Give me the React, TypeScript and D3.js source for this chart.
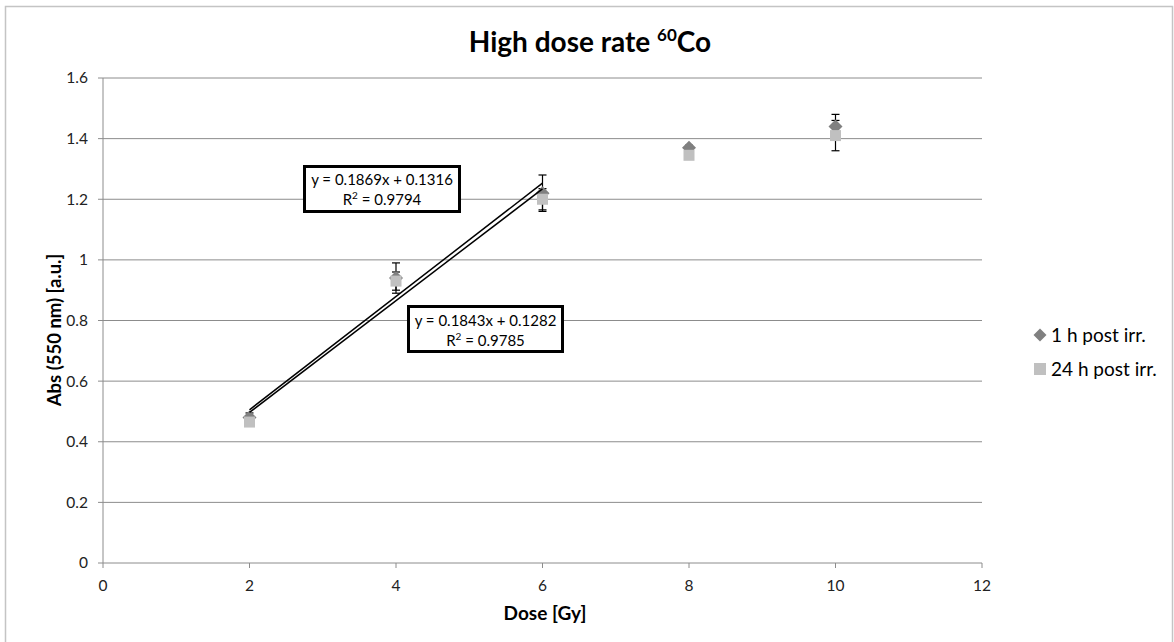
import React from "react";
import * as d3 from "d3";

const doses = [2, 4, 6, 8, 10];
const oneHour = [0.48, 0.94, 1.22, 1.37, 1.44];
const oneHourErr = [0.015, 0.05, 0.06, 0.008, 0.04];
const twentyFourHour = [0.465, 0.93, 1.2, 1.345, 1.41];
const twentyFourHourErr = [0.01, 0.03, 0.035, 0.008, 0.05];
const xTicks = [0, 2, 4, 6, 8, 10, 12];
const yTicks = [0, 0.2, 0.4, 0.6, 0.8, 1, 1.2, 1.4, 1.6];
const fit1h = { slope: 0.1869, intercept: 0.1316, r2: "0.9794", x0: 2, x1: 6 };
const fit24h = { slope: 0.1843, intercept: 0.1282, r2: "0.9785", x0: 2, x1: 6 };
const seriesNames = ["1 h post irr.", "24 h post irr."];

const W = 1174;
const H = 642;
const FONT = "Lato, 'Open Sans', sans-serif";

export default function App() {
  const x = d3.scaleLinear().domain([0, 12]).range([103, 982]);
  const y = d3.scaleLinear().domain([0, 1.6]).range([563, 78]);
  const gridColor = "#8c8c8c";
  const c1 = "#808080";
  const c2 = "#c0c0c0";

  const diamondPath = (r: number) => `M0,${-r}L${r},0L0,${r}L${-r},0Z`;
  const line = d3.line<[number, number]>().x((d) => x(d[0])).y((d) => y(d[1]));

  const fitLine = (f: typeof fit1h) =>
    line([
      [f.x0, f.slope * f.x0 + f.intercept],
      [f.x1, f.slope * f.x1 + f.intercept],
    ]) || "";

  const errBar = (xv: number, yv: number, e: number, key: string) => {
    const px = x(xv);
    return (
      <g key={key} stroke="#000" strokeWidth={1.2}>
        <line x1={px} x2={px} y1={y(yv - e)} y2={y(yv + e)} />
        <line x1={px - 4} x2={px + 4} y1={y(yv - e)} y2={y(yv - e)} />
        <line x1={px - 4} x2={px + 4} y1={y(yv + e)} y2={y(yv + e)} />
      </g>
    );
  };

  return (
    <svg
      width={W}
      height={H}
      style={{ position: "absolute", left: 0, top: 0, background: "#fff" }}
      fontFamily={FONT}
    >
      <rect x={5.5} y={6.5} width={1167} height={650} fill="#fff" stroke="#c4c4c4" strokeWidth={1.5} />

      {/* Title */}
      <text x={590} y={52} textAnchor="middle" fontSize={28} fontWeight="bold" fill="#000">
        High dose rate <tspan fontSize={17} dy={-11}>60</tspan>
        <tspan dy={11}>Co</tspan>
      </text>

      {/* gridlines */}
      {yTicks.map((t) => (
        <line key={"g" + t} x1={x(0)} x2={x(12)} y1={y(t)} y2={y(t)} stroke={gridColor} strokeWidth={1} />
      ))}
      {/* y axis */}
      <line x1={x(0)} x2={x(0)} y1={y(0)} y2={y(1.6)} stroke={gridColor} strokeWidth={1} />
      {yTicks.map((t) => (
        <g key={"yt" + t}>
          <line x1={x(0) - 5} x2={x(0)} y1={y(t)} y2={y(t)} stroke={gridColor} />
          <text x={x(0) - 15} y={y(t)} dy="0.35em" textAnchor="end" fontSize={15.5} fill="#222">
            {String(t)}
          </text>
        </g>
      ))}
      {/* x axis ticks */}
      {xTicks.map((t) => (
        <g key={"xt" + t}>
          <line x1={x(t)} x2={x(t)} y1={y(0)} y2={y(0) + 5} stroke={gridColor} />
          <text x={x(t)} y={y(0) + 28} textAnchor="middle" fontSize={15.5} fill="#222">
            {String(t)}
          </text>
        </g>
      ))}

      {/* axis titles */}
      <text x={545} y={620} textAnchor="middle" fontSize={19} fontWeight="bold" fill="#000">
        Dose [Gy]
      </text>
      <text
        transform={`translate(61, 330) rotate(-90)`}
        textAnchor="middle"
        fontSize={18.5}
        fontWeight="bold"
        fill="#000"
      >
        Abs (550 nm) [a.u.]
      </text>

      {/* error bars (drawn behind markers) */}
      {doses.map((d, i) => errBar(d, oneHour[i], oneHourErr[i], "e1" + i))}
      {doses.map((d, i) => errBar(d, twentyFourHour[i], twentyFourHourErr[i], "e2" + i))}

      {/* series: 1 h diamonds */}
      {doses.map((d, i) => (
        <path key={"d" + i} d={diamondPath(7)} transform={`translate(${x(d)},${y(oneHour[i])})`} fill={c1} />
      ))}
      {/* series: 24 h squares */}
      {doses.map((d, i) => (
        <rect
          key={"s" + i}
          x={x(d) - 5.5}
          y={y(twentyFourHour[i]) - 5.5}
          width={11}
          height={11}
          fill={c2}
        />
      ))}

      {/* trend lines */}
      <path d={fitLine(fit1h)} stroke="#000" strokeWidth={1.5} fill="none" />
      <path d={fitLine(fit24h)} stroke="#000" strokeWidth={1.5} fill="none" />

      {/* equation boxes */}
      <g>
        <rect x={304.5} y={166.5} width={155} height={45} fill="#fff" stroke="#000" strokeWidth={3} />
        <text x={382} y={180} dy="0.35em" textAnchor="middle" fontSize={15} fill="#000">
          y = {fit1h.slope}x + {fit1h.intercept}
        </text>
        <text x={382} y={200} dy="0.35em" textAnchor="middle" fontSize={15} fill="#000">
          R<tspan fontSize={10} dy={-6}>2</tspan>
          <tspan dy={6}> = {fit1h.r2}</tspan>
        </text>
      </g>
      <g>
        <rect x={408.5} y={306.5} width={154} height={45} fill="#fff" stroke="#000" strokeWidth={3} />
        <text x={485.5} y={320.5} dy="0.35em" textAnchor="middle" fontSize={15} fill="#000">
          y = {fit24h.slope}x + {fit24h.intercept}
        </text>
        <text x={485.5} y={340.5} dy="0.35em" textAnchor="middle" fontSize={15} fill="#000">
          R<tspan fontSize={10} dy={-6}>2</tspan>
          <tspan dy={6}> = {fit24h.r2}</tspan>
        </text>
      </g>

      {/* legend */}
      <g>
        <path d={diamondPath(6.5)} transform="translate(1040,335)" fill={c1} />
        <text x={1051} y={335} dy="0.35em" fontSize={19} fill="#000">
          {seriesNames[0]}
        </text>
        <rect x={1034} y={363} width={12} height={12} fill={c2} />
        <text x={1051} y={369} dy="0.35em" fontSize={19} fill="#000">
          {seriesNames[1]}
        </text>
      </g>
    </svg>
  );
}
